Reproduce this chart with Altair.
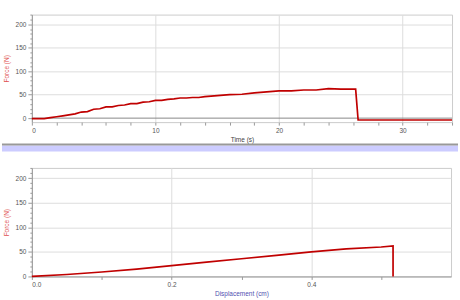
import altair as alt
import pandas as pd

# Top panel: Force vs Time
time_s = [0, 1, 1.5, 2, 2.5, 3, 3.5, 4, 4.5, 5, 5.5, 6, 6.5, 7, 7.5, 8, 8.5, 9, 9.5, 10,
          10.5, 11, 11.5, 12, 12.5, 13, 13.5, 14, 14.5, 15, 15.5, 16, 17, 18, 19, 20,
          21, 22, 23, 24, 25, 26, 26.2, 26.4, 34]
force_t = [-1, -1, 1, 3, 5, 7, 9, 13, 14, 19, 20, 24, 24, 27, 28, 31, 31, 34, 35, 38,
           38, 40, 41, 43, 43, 44, 44, 46, 47, 48, 49, 50, 51, 54, 56, 58,
           58, 60, 60, 63, 62, 62, 62, -4, -4]

# Bottom panel: Force vs Displacement
disp_cm = [0, 0.05, 0.1, 0.15, 0.2, 0.25, 0.3, 0.35, 0.4, 0.45, 0.5, 0.517, 0.517]
force_d = [0, 4, 9, 15, 22, 29, 36, 43, 50, 56, 60, 62, 0]

top_df = pd.DataFrame({"t": time_s, "f": force_t, "i": range(len(time_s))})
bot_df = pd.DataFrame({"d": disp_cm, "f": force_d, "i": range(len(disp_cm))})

LINE = "#c00000"
FONT = "Liberation Sans"

y_vals = list(range(0, 221, 10))


def y_axis():
    return alt.Axis(
        title="Force (N)", titleColor="#e05050", titleFontSize=6.5, titleFontWeight="normal",
        titleFont=FONT, titlePadding=6,
        values=y_vals, labelExpr="datum.value % 50 == 0 ? datum.label : ''",
        labelFontSize=6.5, labelColor="#555", labelFont=FONT, labelPadding=2,
        labelOverlap=False,
        tickSize={"condition": {"test": "datum.value % 50 == 0", "value": 4}, "value": 2},
        gridOpacity={"condition": {"test": "datum.value % 50 == 0 && datum.value > 0", "value": 1}, "value": 0},
        gridColor="#dddddd", domainColor="#999", tickColor="#999",
    )


def top_x_axis():
    return alt.Axis(
        title="Time (s)", titleColor="#444", titleFontSize=6.5, titleFontWeight="normal",
        titleFont=FONT, titlePadding=3,
        values=list(range(0, 35, 2)), labelExpr="datum.value % 10 == 0 ? datum.label : ''",
        labelFontSize=6.5, labelColor="#555", labelFont=FONT, labelPadding=2,
        labelOverlap=False,
        tickSize=3, tickColor="#999", domain=False,
        gridOpacity={"condition": {"test": "datum.value % 10 == 0 && datum.value > 0", "value": 1}, "value": 0},
        gridColor="#dddddd",
    )


top_y_scale = alt.Scale(domain=[-8.5, 221], nice=False, zero=False)
top_x_scale = alt.Scale(domain=[0, 34], nice=False)

top_line = alt.Chart(top_df).mark_line(color=LINE, strokeWidth=1.7).encode(
    x=alt.X("t:Q", axis=top_x_axis(), scale=top_x_scale),
    y=alt.Y("f:Q", axis=y_axis(), scale=top_y_scale),
    order="i:Q",
)
zero_rule = alt.Chart(pd.DataFrame({"f": [0]})).mark_rule(color="#888", strokeWidth=1).encode(
    y=alt.Y("f:Q", axis=y_axis(), scale=top_y_scale)
)

top = alt.layer(zero_rule, top_line).properties(width=422, height=108)

bot_x = alt.Axis(
    title="Displacement (cm)", titleColor="#5050b0", titleFontSize=6.5, titleFontWeight="normal",
    titleFont=FONT, titlePadding=3,
    values=[0, 0.1, 0.2, 0.3, 0.4, 0.5], format=".1f",
    labelExpr="round(datum.value * 10) % 2 == 0 ? datum.label : ''",
    labelFontSize=6.5, labelColor="#555", labelFont=FONT, labelPadding=2,
    labelOverlap=False,
    tickSize=3, tickColor="#999", domainColor="#999",
    gridOpacity={"condition": {"test": "round(datum.value * 10) % 2 == 0 && datum.value > 0", "value": 1}, "value": 0},
    gridColor="#dddddd",
)

bot_line = alt.Chart(bot_df).mark_line(color=LINE, strokeWidth=1.7).encode(
    x=alt.X("d:Q", axis=bot_x, scale=alt.Scale(domain=[0, 0.6], nice=False)),
    y=alt.Y("f:Q", axis=y_axis(), scale=alt.Scale(domain=[0, 221], nice=False)),
    order="i:Q",
)

band = alt.Chart(pd.DataFrame({"a": [0]})).mark_rect(color="#ccccff").encode(
    x=alt.value(-30), x2=alt.value(428), y=alt.value(-22.5), y2=alt.value(-16.5)
)
band_line = alt.Chart(pd.DataFrame({"a": [0]})).mark_rule(color="#999", strokeWidth=2).encode(
    x=alt.value(-30), x2=alt.value(428), y=alt.value(-23.5)
)

bottom = alt.layer(band, band_line, bot_line).properties(width=421, height=109)

chart = alt.vconcat(top, bottom, spacing=46, bounds="flush").properties(
    autosize=alt.AutoSizeParams(type="pad"),
    padding={"left": 0, "top": 10, "right": 0, "bottom": 0},
    background="white",
).configure_view(stroke="#cccccc", strokeWidth=1)

chart.save("out.html", embed_options={"renderer": "svg", "actions": False})
